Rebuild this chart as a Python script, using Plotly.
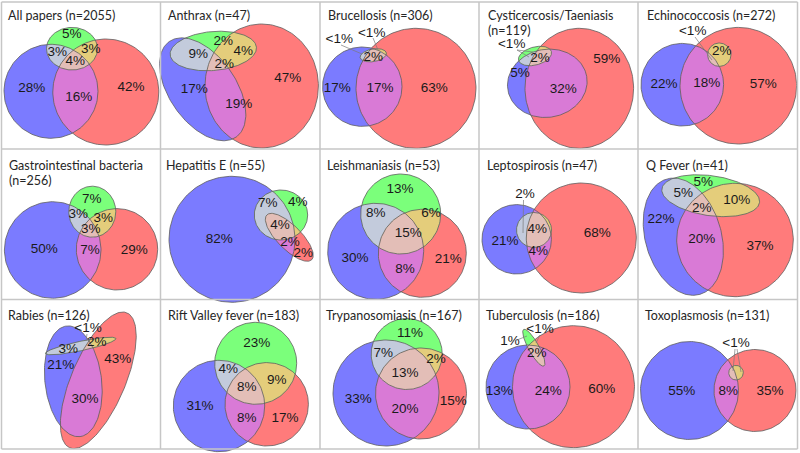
import numpy as np
import plotly.graph_objects as go

# ---------------- data ----------------
TITLES = [
    "All papers (n=2055)", "Anthrax (n=47)", "Brucellosis (n=306)",
    "Cysticercosis/Taeniasis\n(n=119)", "Echinococcosis (n=272)",
    "Gastrointestinal bacteria\n(n=256)", "Hepatitis E (n=55)", "Leishmaniasis (n=53)",
    "Leptospirosis (n=47)", "Q Fever (n=41)",
    "Rabies (n=126)", "Rift Valley fever (n=183)", "Trypanosomiasis (n=167)",
    "Tuberculosis (n=186)", "Toxoplasmosis (n=131)",
]

PCT_LABELS = [
    ["5%", "3%", "3%", "4%", "28%", "16%", "42%"],
    ["2%", "9%", "4%", "2%", "17%", "19%", "47%"],
    ["<1%", "<1%", "2%", "17%", "17%", "63%"],
    ["<1%", "5%", "2%", "32%", "59%"],
    ["<1%", "2%", "22%", "18%", "57%"],
    ["7%", "3%", "3%", "3%", "50%", "7%", "29%"],
    ["7%", "4%", "4%", "2%", "2%", "82%"],
    ["13%", "8%", "6%", "15%", "30%", "8%", "21%"],
    ["2%", "4%", "21%", "4%", "68%"],
    ["5%", "5%", "10%", "2%", "22%", "20%", "37%"],
    ["<1%", "3%", "2%", "21%", "43%", "30%"],
    ["23%", "4%", "9%", "8%", "31%", "8%", "17%"],
    ["11%", "7%", "2%", "13%", "33%", "20%", "15%"],
    ["1%", "<1%", "2%", "13%", "24%", "60%"],
    ["<1%", "55%", "8%", "35%"],
]

# ---------------- layout geometry (pixels) ----------------
# each panel: blue, red, green ellipse = (cx, cy, a, b, rotation_deg)
ELLIPSES = [
    [(51, 91.3, 47, 47, 0), (105.8, 92, 53, 53, 0), (72, 48.7, 25.5, 21.3, 0)],
    [(202.7, 89.3, 58.3, 33.3, 55), (261.7, 86, 56.7, 62, 0), (213.3, 51, 43.3, 19.5, -5)],
    [(362.3, 86.7, 39.7, 39.7, 0), (416, 88.3, 60, 60, 0), (373.3, 55.3, 13.3, 6.3, -10)],
    [(547.3, 83.3, 40, 34, -10), (579.3, 88.3, 54.3, 60, 0), (535, 56, 17, 9, -15)],
    [(682.3, 84.7, 41.3, 41.3, 0), (738.3, 85.7, 58.3, 58.3, 0), (719.3, 54.7, 11.7, 11.7, 0)],
    [(52.7, 250, 48.3, 48.3, 0), (117, 249.3, 40.7, 40.7, 0), (92.3, 211.7, 23.5, 25.5, 0)],
    [(232, 239.3, 63, 63, 0), (289.3, 237.3, 31.7, 12, 45), (281, 215, 26.7, 25, 0)],
    [(375.7, 251.3, 48, 48, 0), (422.3, 253.3, 44, 44, 0), (400.7, 214, 40, 40, 0)],
    [(516.7, 239.3, 34.7, 34.7, 0), (581.3, 238, 55, 55, 0), (534, 230, 17.5, 17.5, 0)],
    [(683.3, 236.7, 60, 38, 74), (735, 240, 58.3, 56.7, 0), (710.7, 195.7, 49.3, 20, 8)],
    [(73.3, 381.3, 55.7, 28.3, 83), (98.3, 380.3, 73.3, 27, 113), (80.7, 346, 36, 4.7, -12)],
    [(219, 406, 45.7, 45.7, 0), (266.7, 404.3, 41.7, 41.7, 0), (255.7, 363.3, 41, 41, 0)],
    [(386, 393, 53, 53, 0), (421, 393.5, 45.5, 45.5, 0), (406.7, 354, 35.5, 35.5, 0)],
    [(528, 387, 42, 42, 0), (573.5, 386.7, 61, 61, 0), (533.8, 347.7, 20.9, 5.3, 61)],
    [(689.5, 390.5, 49, 49, 0), (755, 390.5, 41, 41, 0), (736, 372.7, 7.3, 7.3, 0)],
]

LABEL_XY = [
    [(71.7, 35), (57.3, 52.3), (90.7, 49.3), (75.3, 61.7), (31.7, 88.3), (78.7, 97.3), (131, 87.7)],
    [(223.3, 41.7), (198.3, 54.3), (243.3, 51.7), (224.3, 65), (194.3, 89.3), (238.7, 105), (287.7, 79)],
    [(339.3, 40), (371.7, 33.3), (373.3, 57.3), (337.3, 88.3), (380, 88.3), (434.3, 88.3)],
    [(511.7, 45), (520, 74), (540, 58.3), (563.3, 89.3), (606.7, 60)],
    [(692.7, 31.7), (721.7, 51.7), (664, 84.3), (706.7, 83.3), (763.3, 84.3)],
    [(91.7, 200), (78.3, 214.3), (103.3, 218.3), (90.7, 230), (44.3, 249.3), (90, 250.7), (134.3, 251)],
    [(267.7, 203.3), (297.7, 202.7), (280, 225.7), (290, 242.7), (303.3, 253.3), (219.3, 240)],
    [(400, 190), (375.7, 213.3), (431, 214), (408.3, 234), (355, 258.3), (405, 269.3), (448.3, 260)],
    [(525, 195), (537.3, 230), (505, 241.7), (538.3, 251.7), (597.3, 233.3)],
    [(703.3, 182.3), (683.3, 193.3), (736.7, 200.7), (701.7, 208.3), (661, 219.3), (701.7, 240), (760, 246.7)],
    [(88, 328.5), (68.3, 349.3), (96.7, 342.7), (60.7, 366), (117.7, 360), (85, 400)],
    [(256.7, 343.3), (228.3, 370), (276.7, 381), (246.7, 387.3), (200, 406.7), (246.7, 418.3), (285, 418.3)],
    [(410, 333.3), (383.3, 353.3), (436, 360), (405, 373.3), (358.3, 400), (405, 410), (453.3, 401.7)],
    [(510, 341.7), (540, 329.5), (536.7, 354), (499.3, 391.7), (548.3, 391.7), (601.7, 390)],
    [(736, 343.3), (681.7, 391.7), (728.3, 391.7), (770, 391.7)],
]

LEADERS = [
    [], [],
    [((341, 45), (362, 54)), ((373, 38), (378, 50))],
    [((517, 50), (533, 52)), ((517, 50), (529, 57))],
    [((695, 37), (712, 60))],
    [], [], [],
    [((523.5, 200), (523, 233))],
    [],
    [((87, 334), (86, 341))],
    [], [],
    [((517, 340), (527, 336)), ((540, 335), (536, 343))],
    [((735, 349), (733, 371)), ((737, 349), (741, 372))],
]

TITLE_XY = [(8, 15), (168, 15), (328, 15), (488, 15), (647, 15),
            (9, 165), (166, 165), (327, 165), (487, 165), (646, 165),
            (8, 315), (167.5, 315), (326, 315), (486, 315), (645, 315)]

V_LINES = [1.5, 160.5, 320, 479, 638, 797.5]
H_LINES = [2, 149, 299.5, 449]

C_B, C_R, C_G = "#7b7bff", "#ff7b7b", "#7bff7b"
C_BR, C_BG, C_RG, C_BRG = "#d97ad6", "#c3cbdc", "#e4cd7b", "#e3beb7"


# ---------------- helpers ----------------
def ellipse_pts(cx, cy, a, b, rot, n=160):
    t = np.linspace(0, 2 * np.pi, n, endpoint=False)
    th = np.radians(rot)
    x = cx + a * np.cos(t) * np.cos(th) - b * np.sin(t) * np.sin(th)
    y = cy + a * np.cos(t) * np.sin(th) + b * np.sin(t) * np.cos(th)
    return list(zip(x.tolist(), y.tolist()))


def clip(subject, clipper):
    def inside(p, a, b):
        return (b[0] - a[0]) * (p[1] - a[1]) - (b[1] - a[1]) * (p[0] - a[0]) >= 0

    def inter(s, e, a, b):
        x1, y1 = s; x2, y2 = e; x3, y3 = a; x4, y4 = b
        den = (x1 - x2) * (y3 - y4) - (y1 - y2) * (x3 - x4)
        if abs(den) < 1e-12:
            return e
        t = ((x1 - x3) * (y3 - y4) - (y1 - y3) * (x3 - x4)) / den
        return (x1 + t * (x2 - x1), y1 + t * (y2 - y1))

    out = subject
    n = len(clipper)
    for i in range(n):
        a, b = clipper[i], clipper[(i + 1) % n]
        inp, out = out, []
        if not inp:
            break
        s = inp[-1]
        for e in inp:
            if inside(e, a, b):
                if not inside(s, a, b):
                    out.append(inter(s, e, a, b))
                out.append(e)
            elif inside(s, a, b):
                out.append(inter(s, e, a, b))
            s = e
    return out


groups = {k: ([], []) for k in ["B", "R", "G", "BR", "BG", "RG", "BRG", "OUT"]}


def add_poly(key, pts, close=True):
    xs, ys = groups[key]
    if len(pts) < 3:
        return
    for x, y in pts:
        xs.append(x); ys.append(y)
    if close:
        xs.append(pts[0][0]); ys.append(pts[0][1])
    xs.append(None); ys.append(None)


for eb, er, eg in ELLIPSES:
    pb, pr, pg = ellipse_pts(*eb), ellipse_pts(*er), ellipse_pts(*eg)
    add_poly("B", pb); add_poly("R", pr); add_poly("G", pg)
    br = clip(pb, pr)
    add_poly("BR", br)
    add_poly("BG", clip(pb, pg))
    add_poly("RG", clip(pr, pg))
    add_poly("BRG", clip(br, pg))
    add_poly("OUT", pb); add_poly("OUT", pr); add_poly("OUT", pg)

fig = go.Figure()
for key, col in [("B", C_B), ("R", C_R), ("G", C_G), ("BR", C_BR),
                 ("BG", C_BG), ("RG", C_RG), ("BRG", C_BRG)]:
    xs, ys = groups[key]
    fig.add_trace(go.Scatter(x=xs, y=ys, mode="lines", fill="toself",
                             fillcolor=col, line=dict(width=0, color=col),
                             hoverinfo="skip", showlegend=False))
xs, ys = groups["OUT"]
fig.add_trace(go.Scatter(x=xs, y=ys, mode="lines", line=dict(width=0.8, color="#5e5e5e"),
                         hoverinfo="skip", showlegend=False))

# leader lines
lx, ly = [], []
for lst in LEADERS:
    for (x0, y0), (x1, y1) in lst:
        lx += [x0, x1, None]; ly += [y0, y1, None]
fig.add_trace(go.Scatter(x=lx, y=ly, mode="lines", line=dict(width=0.7, color="#7a7a7a"),
                         hoverinfo="skip", showlegend=False))

# percentage labels
tx, ty, tt = [], [], []
for labels, pos in zip(PCT_LABELS, LABEL_XY):
    for s, (x, y) in zip(labels, pos):
        tx.append(x); ty.append(y); tt.append(s)
fig.add_trace(go.Scatter(x=tx, y=ty, text=tt, mode="text", textposition="middle center",
                         textfont=dict(family="Liberation Sans, Arial", size=13.5, color="#1a1a1a"),
                         hoverinfo="skip", showlegend=False))

# titles
for title, (x, y) in zip(TITLES, TITLE_XY):
    for k, line in enumerate(title.split("\n")):
        fig.add_annotation(x=x, y=y + 15 * k, text=line, showarrow=False,
                           xanchor="left", yanchor="middle", xref="x", yref="y",
                           borderpad=0, borderwidth=0,
                           font=dict(family="Lato, Carlito, Calibri", size=12.5, color="#262626"))

shapes = []
for xv in V_LINES:
    shapes.append(dict(type="line", x0=xv, x1=xv, y0=H_LINES[0], y1=H_LINES[-1],
                       line=dict(color="#c6c6c6", width=1.5), layer="above"))
for yh in H_LINES:
    shapes.append(dict(type="line", x0=V_LINES[0], x1=V_LINES[-1], y0=yh, y1=yh,
                       line=dict(color="#c6c6c6", width=1.5), layer="above"))

fig.update_layout(
    width=800, height=453, margin=dict(l=0, r=0, t=0, b=0),
    paper_bgcolor="white", plot_bgcolor="white", shapes=shapes,
    xaxis=dict(range=[0, 800], visible=False, fixedrange=True),
    yaxis=dict(range=[453, 0], visible=False, fixedrange=True),
)
fig.write_html("out.html", config={"displayModeBar": False, "displaylogo": False},
               post_script="document.body.style.margin='0';document.body.style.overflow='hidden';")
